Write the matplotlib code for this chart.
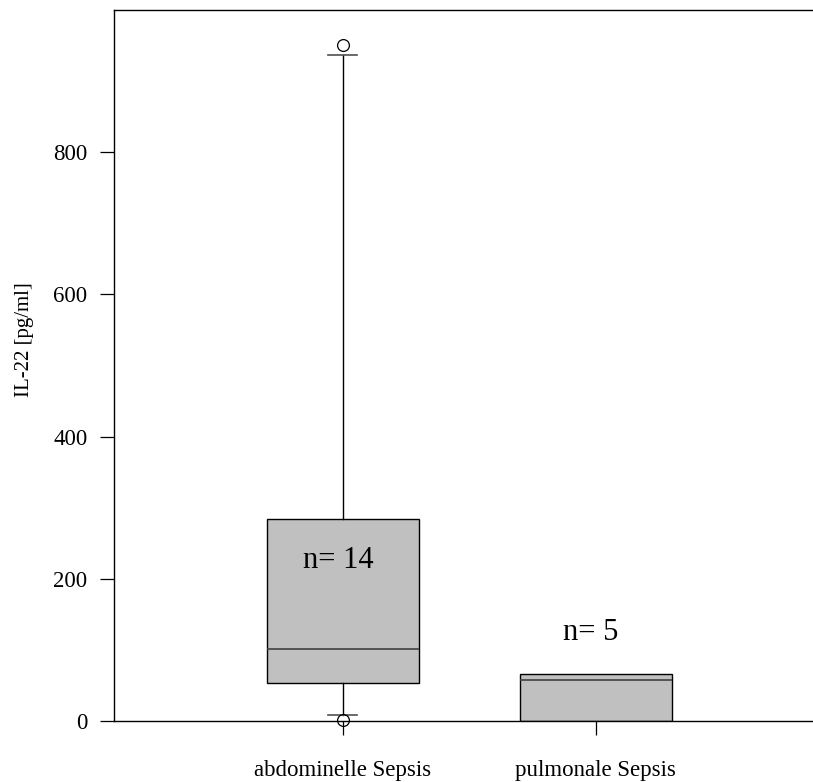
import matplotlib
matplotlib.use("Agg")
import matplotlib.pyplot as plt

plt.rcParams['font.family'] = ['Liberation Serif', 'DejaVu Serif']

# box statistics per group (pg/ml)
groups = ['abdominelle Sepsis', 'pulmonale Sepsis']
n_counts = [14, 5]
q1 = [53, 0]
median = [101.5, 57]
q3 = [284, 66.5]
whisker_low = [8.5, 0]
whisker_high = [937, 66.5]
outliers = [[951, 1], []]
n_label_y = [226, 124]

positions = [1, 2]

fig = plt.figure(figsize=(8.13, 7.82), dpi=100)
ax = fig.add_axes([0.1402, 0.078, 0.8598, 0.9092])

stats = []
for i in range(len(groups)):
    stats.append({
        'q1': q1[i], 'med': median[i], 'q3': q3[i],
        'whislo': whisker_low[i], 'whishi': whisker_high[i],
        'fliers': outliers[i], 'label': groups[i],
    })

parts = ax.bxp(stats, positions=positions, widths=0.6, patch_artist=True,
               boxprops=dict(facecolor='#c0c0c0', edgecolor='black', linewidth=1.0),
               medianprops=dict(color='#404040', linewidth=1.2),
               whiskerprops=dict(color='black', linewidth=1.0),
               capprops=dict(color='#505050', linewidth=1.2),
               capwidths=0.115,
               flierprops=dict(marker='o', markerfacecolor='none', markeredgecolor='black',
                               markersize=8.5, markeredgewidth=0.9, clip_on=False))

# whiskers of the second group collapse onto the box edges, so no caps there
for cap in parts['caps'][2:]:
    cap.set_visible(False)

for pos, n, y in zip(positions, n_counts, n_label_y):
    ax.text(pos - 0.02, y, f'n= {n}', ha='center', va='center', fontsize=22)

ax.set_xlim(0.095, 2.858)
ax.set_ylim(0, 1000)
ax.set_yticks([0, 200, 400, 600, 800])
ax.set_xticks(positions)
ax.set_xticklabels(groups)
ax.tick_params(axis='both', direction='out', length=10, width=0.9, labelsize=16.5)
ax.tick_params(axis='y', pad=9)
ax.tick_params(axis='x', pad=18)
ax.spines['right'].set_visible(False)
for s in ['left', 'top', 'bottom']:
    ax.spines[s].set_linewidth(1.0)

fig.text(24 / 813, 1 - 340 / 782, 'IL-22 [pg/ml]', rotation=90,
         ha='center', va='center', fontsize=15)

fig.savefig('out.png', dpi=100)
